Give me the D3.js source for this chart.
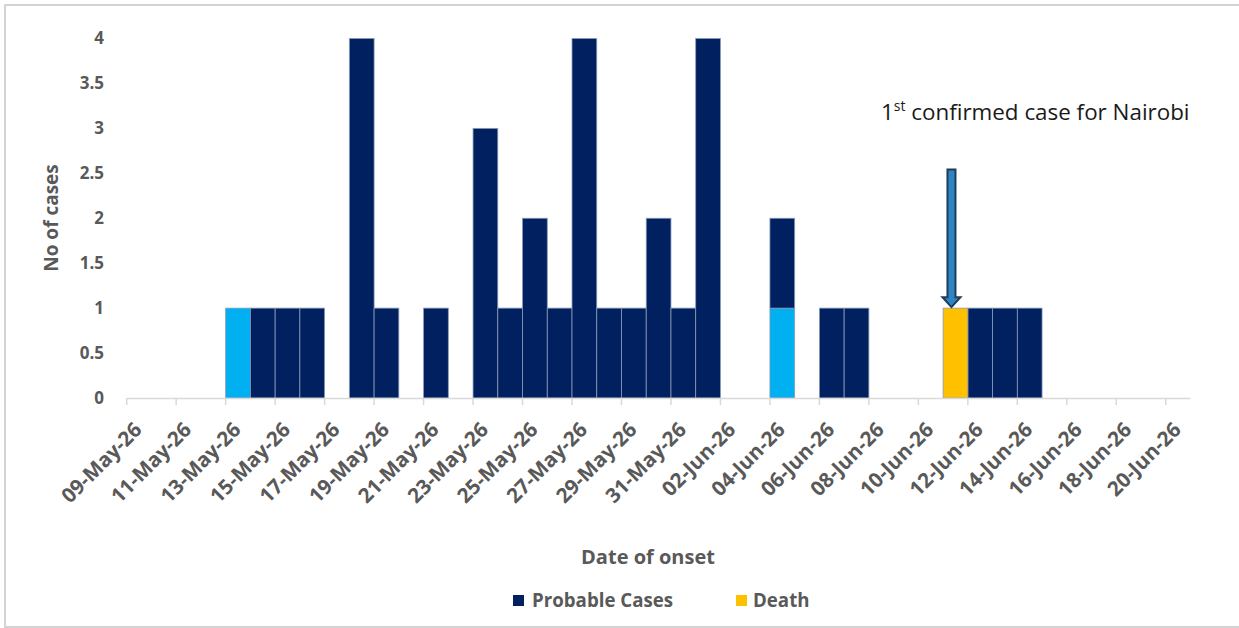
<!DOCTYPE html>
<html>
<head>
<meta charset="utf-8">
<script src="https://cdn.jsdelivr.net/npm/d3@7"></script>
<style>
  html, body { margin: 0; padding: 0; background: #fff; }
  svg { display: block; font-family: "Open Sans", "Lato", sans-serif; }
</style>
</head>
<body>
<svg id="chart" width="1239" height="628"></svg>
<script>
// Onset dates: one category per day, 09 May 2026 to 20 Jun 2026
const startDate = new Date(2026, 4, 9);
const endDate = new Date(2026, 5, 21);
const onsetDays = d3.timeDay.range(startDate, endDate);

// Daily counts by onset date (same order as onsetDays)
const confirmedCases = [0,0,0,0,1,0,0,0,0,0,0,0,0,0,0,0,0,0,0,0,0,0,0,0,0,0,1,0,0,0,0,0,0,0,0,0,0,0,0,0,0,0,0];
const probableCases  = [0,0,0,0,0,1,1,1,0,4,1,0,1,0,3,1,2,1,4,1,1,2,1,4,0,0,1,0,1,1,0,0,0,0,1,1,1,0,0,0,0,0,0];
const deaths         = [0,0,0,0,0,0,0,0,0,0,0,0,0,0,0,0,0,0,0,0,0,0,0,0,0,0,0,0,0,0,0,0,0,1,0,0,0,0,0,0,0,0,0];

const yTicks = [0, 0.5, 1, 1.5, 2, 2.5, 3, 3.5, 4];
const seriesKeys = ["confirmed", "probable", "death"];
const seriesColors = { confirmed: "#00b0f0", probable: "#002060", death: "#ffc000" };
const legendItems = [
  { key: "probable", label: "Probable Cases" },
  { key: "death", label: "Death" }
];

const fmt = d3.timeFormat("%d-%b-%y");
const textGray = "#595959";

const svg = d3.select("#chart");

// outer frame
svg.append("rect")
  .attr("x", 5).attr("y", 5)
  .attr("width", 1260).attr("height", 622)
  .attr("fill", "none")
  .attr("stroke", "#d3d3d3")
  .attr("stroke-width", 2);

const x = d3.scaleBand()
  .domain(onsetDays.map(d => +d))
  .range([126.7, 1190.5])
  .paddingInner(0).paddingOuter(0);

const y = d3.scaleLinear().domain([0, 4]).range([398, 38.5]);

const table = onsetDays.map((d, i) => ({
  date: +d,
  confirmed: confirmedCases[i],
  probable: probableCases[i],
  death: deaths[i]
}));

const stacked = d3.stack().keys(seriesKeys)(table);

// bars
const barG = svg.append("g");
stacked.forEach(layer => {
  barG.append("g")
    .attr("fill", seriesColors[layer.key])
    .selectAll("rect")
    .data(layer.filter(d => d[1] - d[0] > 0))
    .join("rect")
      .attr("x", d => x(d.data.date))
      .attr("y", d => y(d[1]))
      .attr("width", x.bandwidth())
      .attr("height", d => y(d[0]) - y(d[1]))
      .attr("stroke", "#8a9ab6")
      .attr("stroke-width", 0.8);
});

// x axis line and ticks at band edges every 2 days
const x0 = x.range()[0], x1 = x.range()[1];
const axisG = svg.append("g");
axisG.append("line")
  .attr("x1", x0).attr("x2", x1)
  .attr("y1", y(0) + 0.5).attr("y2", y(0) + 0.5)
  .attr("stroke", "#d9d9d9").attr("stroke-width", 1.5);

const labelDays = onsetDays.filter((d, i) => i % 2 === 0);
axisG.selectAll("line.tick")
  .data(labelDays)
  .join("line")
    .attr("class", "tick")
    .attr("x1", d => x(+d)).attr("x2", d => x(+d))
    .attr("y1", y(0)).attr("y2", y(0) + 7)
    .attr("stroke", "#d9d9d9").attr("stroke-width", 1.5);

axisG.selectAll("text.xl")
  .data(labelDays)
  .join("text")
    .attr("class", "xl")
    .attr("transform", d => `translate(${x(+d) + x.bandwidth() / 2 - 1},${y(0) + 28}) rotate(-45)`)
    .attr("text-anchor", "end")
    .attr("dy", "0.35em")
    .attr("fill", textGray)
    .attr("font-weight", 700)
    .attr("font-size", 20.5)
    .text(d => fmt(d));

// y tick labels
svg.append("g").selectAll("text")
  .data(yTicks)
  .join("text")
    .attr("x", 104)
    .attr("y", d => y(d))
    .attr("dy", "0.35em")
    .attr("text-anchor", "end")
    .attr("fill", textGray)
    .attr("font-weight", 700)
    .attr("font-size", 17)
    .text(d => d);

// axis titles
svg.append("text")
  .attr("transform", "translate(58,218) rotate(-90)")
  .attr("text-anchor", "middle")
  .attr("fill", textGray)
  .attr("font-weight", 700)
  .attr("font-size", 19)
  .text("No of cases");

svg.append("text")
  .attr("x", 648).attr("y", 564)
  .attr("text-anchor", "middle")
  .attr("fill", textGray)
  .attr("font-weight", 700)
  .attr("font-size", 20)
  .text("Date of onset");

// legend
const legendPos = [{ sx: 513, tx: 532 }, { sx: 736, tx: 753 }];
const legend = svg.append("g");
legendItems.forEach((item, i) => {
  legend.append("rect")
    .attr("x", legendPos[i].sx).attr("y", 595)
    .attr("width", 11).attr("height", 11)
    .attr("fill", seriesColors[item.key]);
  legend.append("text")
    .attr("x", legendPos[i].tx).attr("y", 600.5)
    .attr("dy", "0.35em")
    .attr("fill", textGray)
    .attr("font-weight", 700)
    .attr("font-size", 18.7)
    .text(item.label);
});

// annotation for first confirmed case in Nairobi
const deathIdx = deaths.findIndex(v => v > 0);
const deathDay = +onsetDays[deathIdx];
const ax = x(deathDay) + x.bandwidth() / 2 - 4;
const tipY = y(deaths[deathIdx]) - 1;
const headY = tipY - 10;
const topY = 169.5;
const arrowPath = d3.path();
arrowPath.moveTo(ax - 4, topY);
arrowPath.lineTo(ax + 4, topY);
arrowPath.lineTo(ax + 4, headY);
arrowPath.lineTo(ax + 9, headY);
arrowPath.lineTo(ax, tipY);
arrowPath.lineTo(ax - 9, headY);
arrowPath.lineTo(ax - 4, headY);
arrowPath.closePath();
svg.append("path")
  .attr("d", arrowPath.toString())
  .attr("fill", "#2e86c1")
  .attr("stroke", "#1f3b5e")
  .attr("stroke-width", 2)
  .attr("stroke-linejoin", "miter");

const note = svg.append("text")
  .attr("x", 881).attr("y", 120)
  .attr("fill", "#1a1a1a")
  .attr("font-size", 22.4);
note.append("tspan").text("1");
note.append("tspan").attr("dy", -9).attr("font-size", 14).text("st");
note.append("tspan").attr("dy", 9).text(" confirmed case for Nairobi");
</script>
</body>
</html>
